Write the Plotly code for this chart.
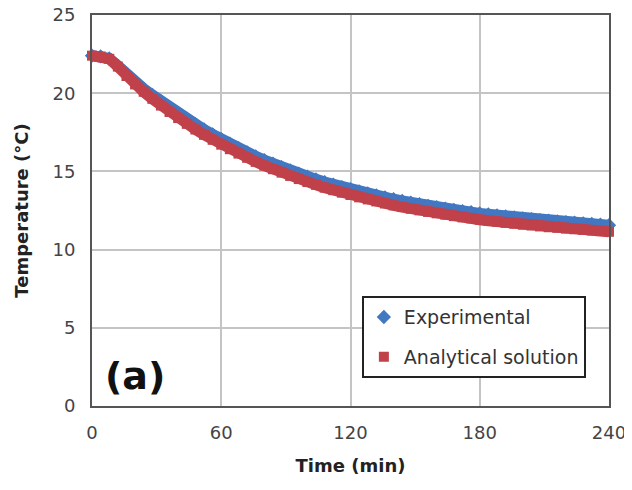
import plotly.graph_objects as go

time_min = [0, 4, 8, 12, 16, 20, 24, 28, 32, 36, 40, 44, 48, 52, 56, 60,
            64, 68, 72, 76, 80, 84, 88, 92, 96, 100, 104, 108, 112, 116, 120,
            124, 128, 132, 136, 140, 144, 148, 152, 156, 160, 164, 168, 172, 176, 180,
            184, 188, 192, 196, 200, 204, 208, 212, 216, 220, 224, 228, 232, 236, 240]

analytical = [22.40, 22.35, 22.20, 21.70, 21.10, 20.56, 20.09, 19.64, 19.21, 18.80,
              18.41, 18.04, 17.68, 17.34, 17.02, 16.71, 16.42, 16.14, 15.87, 15.61,
              15.37, 15.14, 14.92, 14.71, 14.51, 14.32, 14.14, 13.96, 13.80, 13.64,
              13.49, 13.34, 13.21, 13.08, 12.95, 12.83, 12.72, 12.61, 12.51, 12.41,
              12.32, 12.23, 12.14, 12.06, 11.99, 11.91, 11.84, 11.78, 11.71, 11.65,
              11.59, 11.54, 11.48, 11.43, 11.39, 11.34, 11.30, 11.26, 11.22, 11.18, 11.14]

experimental = [22.40, 22.35, 22.22, 21.76, 21.20, 20.71, 20.29, 19.89, 19.49, 19.10,
                18.73, 18.37, 18.02, 17.68, 17.37, 17.06, 16.77, 16.49, 16.22, 15.96,
                15.72, 15.49, 15.27, 15.06, 14.86, 14.67, 14.49, 14.32, 14.16, 14.00,
                13.86, 13.72, 13.59, 13.46, 13.34, 13.22, 13.11, 13.00, 12.90, 12.80,
                12.71, 12.62, 12.54, 12.46, 12.39, 12.31, 12.25, 12.18, 12.12, 12.06,
                12.00, 11.95, 11.89, 11.85, 11.80, 11.76, 11.72, 11.68, 11.64, 11.60, 11.56]

x_ticks = [0, 60, 120, 180, 240]
y_ticks = [0, 5, 10, 15, 20, 25]

BLUE = "#4277c2"
RED = "#c1414a"
FONT = "DejaVu Sans, Open Sans, sans-serif"

fig = go.Figure()
# filler lines (no legend) so the dense markers read as a continuous band
fig.add_trace(go.Scatter(x=time_min, y=experimental, mode="lines",
                         line=dict(color=BLUE, width=11), showlegend=False,
                         hoverinfo="skip", cliponaxis=False))
fig.add_trace(go.Scatter(x=time_min, y=experimental, mode="markers",
                         marker=dict(symbol="diamond", size=11, color=BLUE),
                         name="Experimental", legendgroup="a", cliponaxis=False))
fig.add_trace(go.Scatter(x=time_min, y=analytical, mode="lines",
                         line=dict(color=RED, width=11), showlegend=False,
                         hoverinfo="skip", cliponaxis=False))
fig.add_trace(go.Scatter(x=time_min, y=analytical, mode="markers",
                         marker=dict(symbol="square", size=10, color=RED),
                         name="Analytical solution", legendgroup="b", cliponaxis=False))

axis_font = dict(family=FONT, size=18, color="#444444")
title_font = dict(family=FONT, size=18, color="#222222")

fig.update_xaxes(range=[0, 240], tickvals=x_ticks, ticktext=[str(v) for v in x_ticks],
                 showgrid=True, gridcolor="#c4c4c4", gridwidth=2,
                 showline=True, linecolor="#555555", linewidth=2, mirror=True,
                 zeroline=False, ticks="", tickfont=axis_font, ticklabelstandoff=9,
                 ticklabeloverflow="allow", automargin=False,
                 title=dict(text="<b>Time (min)</b>", font=title_font, standoff=18))
fig.update_yaxes(range=[0, 25], tickvals=y_ticks, ticktext=[str(v) for v in y_ticks],
                 showgrid=True, gridcolor="#c4c4c4", gridwidth=2,
                 showline=True, linecolor="#555555", linewidth=2, mirror=True,
                 zeroline=False, ticks="", tickfont=axis_font, ticklabelstandoff=11,
                 ticklabeloverflow="allow", automargin=False,
                 title=dict(text="<b>Temperature (°C)</b>", font=title_font, standoff=19))

fig.add_annotation(x=0.022, y=0.015, xref="paper", yref="paper",
                   xanchor="left", yanchor="bottom", showarrow=False,
                   text="<b>(a)</b>",
                   font=dict(family=FONT, size=38, color="#111111"))

# page body has an 8px margin, so the figure is sized to fit the 632x490 window
fig.update_layout(
    width=624, height=482,
    margin=dict(l=84, r=23, t=7, b=84),
    paper_bgcolor="white", plot_bgcolor="white",
    showlegend=True,
    legend=dict(x=0.522, y=0.281, xanchor="left", yanchor="top",
                bgcolor="white", bordercolor="#222222", borderwidth=2,
                font=dict(family=FONT, size=19, color="#333333"),
                tracegroupgap=12, itemsizing="trace"),
)

fig.write_html("out.html")
